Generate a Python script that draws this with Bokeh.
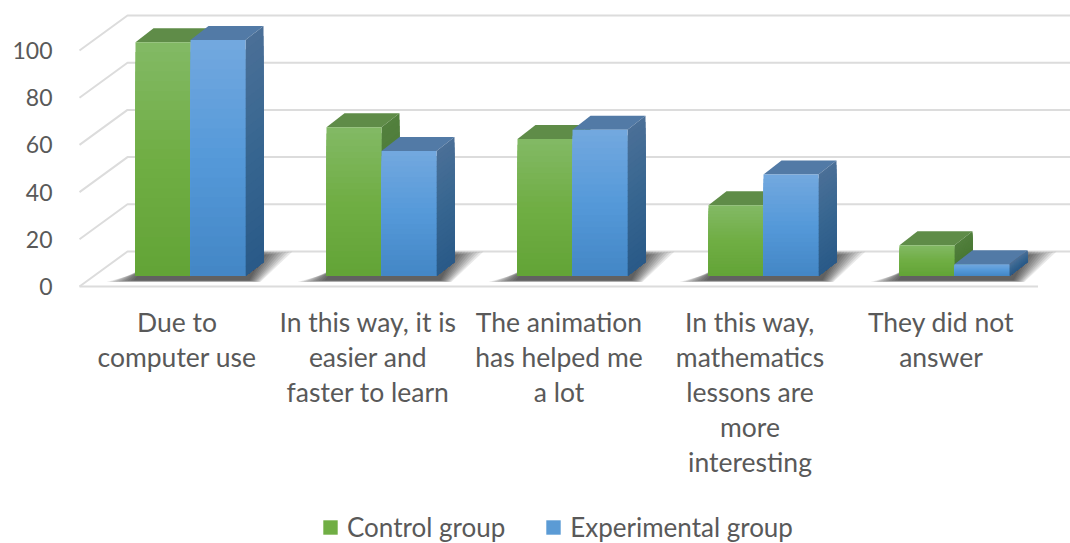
from bokeh.plotting import figure
from bokeh.embed import file_html
from bokeh.resources import INLINE
from bokeh.core.properties import value
from bokeh.models import FixedTicker, Range1d, Legend, LegendItem

categories = ["Due to\ncomputer use",
              "In this way, it is\neasier and\nfaster to learn",
              "The animation\nhas helped me\na lot",
              "In this way,\nmathematics\nlessons are\nmore\ninteresting",
              "They did not\nanswer"]
control = [99, 63, 58, 30, 13]
experimental = [100, 53, 62, 43, 5]
value_ticks = [0, 20, 40, 60, 80, 100]
series_names = ["Control group", "Experimental group"]

FONT = "Lato"
TEXT = "#595959"
GRID = "#dcdcdc"

# scale: px per unit
SX, SY = 191.0, 2.36
FRAME_L, FRAME_B = 57, 543
BAR_W = 55 / SX
BAR_OFF = 13.5 / SX      # group centre relative to the category tick
BASE = 10.5 / SY         # bars stand a little behind the front of the floor
DX, DY = 18 / SX, 14 / SY
WALL_X0, WALL_DX, WALL_DY = -97.5 / SX, 48 / SX, 35 / SY
RIGHT = (1070 - 176.5) / SX

p = figure(width=1070, height=543, output_backend="svg", toolbar_location=None,
           x_range=Range1d((FRAME_L - 176.5) / SX, RIGHT),
           y_range=Range1d((286 - FRAME_B) / SY, 286 / SY),
           min_border_left=FRAME_L, min_border_right=0, min_border_top=0,
           min_border_bottom=0,
           background_fill_color="white", border_fill_color="white", outline_line_color=None)
p.grid.visible = False
p.xaxis.visible = False


def mix(a, b, t):
    ca = [int(a[i:i + 2], 16) for i in (1, 3, 5)]
    cb = [int(b[i:i + 2], 16) for i in (1, 3, 5)]
    return "#%02x%02x%02x" % tuple(round(x + (y - x) * t) for x, y in zip(ca, cb))


def grad(stops, t):
    if t < 0.5:
        return mix(stops[0], stops[1], t * 2)
    return mix(stops[1], stops[2], (t - 0.5) * 2)


# walls and floor
for v in value_ticks:
    p.line([WALL_X0, WALL_X0 + WALL_DX, RIGHT], [v, v + WALL_DY, v + WALL_DY],
           line_color=GRID, line_width=2)
p.line([WALL_X0, 861 / SX], [0, 0], line_color=GRID, line_width=2)

# floor shadows
for grow in [27, 24, 21, 18, 15, 12, 9, 6, 3, 0]:
    for i in range(len(categories)):
        l = i + BAR_OFF - BAR_W
        r = i + BAR_OFF + BAR_W
        low = BASE - (4.5 + grow * .06) / SY
        xs = [l - (2 + grow) / SX, r + (4 + grow * .4) / SX, r + (20 + grow) / SX, l + 20 / SX]
        ys = [low, low, BASE + 24.5 / SY, BASE + (24 - grow * .6) / SY]
        p.patch(xs, ys, fill_color="black", fill_alpha=0.09, line_color=None)

# bars
N = 24
FRONT = [("#82b964", "#70ae44", "#63a437"), ("#72a8df", "#5599d9", "#4487c6")]
SIDE = [("#52803d", "#4b7a36", "#44722e"), ("#4a6f97", "#376690", "#2a5a88")]
TOP = ["#5f8c48", "#527aa6"]
for s, values in enumerate([control, experimental]):
    lefts = [i + BAR_OFF - BAR_W + s * BAR_W for i in range(len(values))]
    for lf, v in zip(lefts, values):
        rt = lf + BAR_W
        p.patch([lf, lf + DX, rt + DX, rt], [BASE + v, BASE + v + DY, BASE + v + DY, BASE + v],
                fill_color=TOP[s], line_color=None)
        for k in range(N):
            h = v * (1 - k / N)
            p.patch([rt, rt + DX, rt + DX, rt],
                    [BASE + h, BASE + h + DY, BASE + DY, BASE],
                    fill_color=grad(SIDE[s], k / (N - 1)), line_color=None)
            p.quad(left=lf, right=rt, top=BASE + h, bottom=BASE,
                   fill_color=grad(FRONT[s], k / (N - 1)), line_color=None)

# axes
y = p.yaxis[0]
y.ticker = FixedTicker(ticks=value_ticks)
y.axis_line_color = None
y.major_tick_line_color = None
y.minor_tick_line_color = None
y.major_tick_in = y.major_tick_out = y.minor_tick_in = y.minor_tick_out = 0
y.major_label_standoff = 5
y.major_label_text_font = FONT
y.major_label_text_font_size = "23px"
y.major_label_text_color = TEXT

# category labels
p.text(x=list(range(len(categories))), y=[(286 - 305) / SY] * len(categories), text=categories,
       text_font=value(FONT), text_font_size="26.5px", text_color=TEXT,
       text_align="center", text_baseline="top", text_line_height=1.1)

# legend
nan = float("nan")
r0 = p.quad(left=[nan], right=[nan], top=[nan], bottom=[nan], fill_color="#70ae44", line_color=None)
r1 = p.quad(left=[nan], right=[nan], top=[nan], bottom=[nan], fill_color="#5b9bd5", line_color=None)
legend = Legend(items=[LegendItem(label=series_names[0], renderers=[r0]),
                       LegendItem(label=series_names[1], renderers=[r1])],
                orientation="horizontal", location=(264, 0), padding=0, margin=0,
                spacing=39, glyph_width=18, glyph_height=18, label_standoff=8,
                border_line_color=None, background_fill_alpha=0,
                label_text_font=FONT, label_text_font_size="26px", label_text_color=TEXT)
p.add_layout(legend, "center")

open("out.html", "w").write(file_html(p, INLINE))
